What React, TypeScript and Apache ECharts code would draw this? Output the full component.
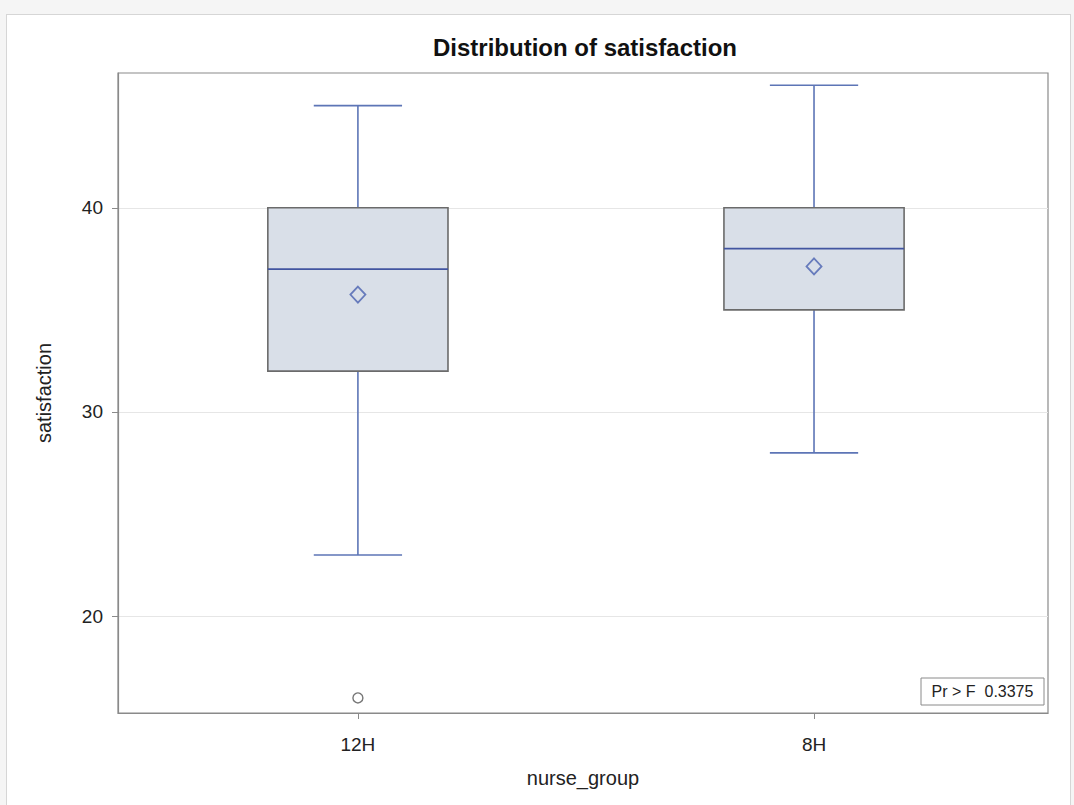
import React, { useEffect, useRef } from "react";
import * as echarts from "echarts";

// Five-number summaries per nurse group
const groups = ["12H", "8H"];
const whiskerLow = [23, 28];
const q1 = [32, 35];
const median = [37, 38];
const q3 = [40, 40];
const whiskerHigh = [45, 46];
const means = [35.75, 37.13];
// [group index, value]
const outliers: [number, number][] = [[0, 16]];

const groupIndexes = [0, 1];
const xMin = -0.526;
const xMax = 1.513;
const yTicks = [20, 30, 40];
const yMin = 15.26;
const yMax = 46.6;
const pValueText = "Pr > F  0.3375";

const FONT = "'Liberation Sans', Arial, sans-serif";

export default function App() {
  const ref = useRef<HTMLDivElement>(null);

  useEffect(() => {
    if (!ref.current) return;
    const chart = echarts.init(ref.current, undefined, { renderer: "svg" });

    const boxData = groups.map((_, i) => [
      groupIndexes[i],
      whiskerLow[i],
      q1[i],
      median[i],
      q3[i],
      whiskerHigh[i],
    ]);

    const renderBox = (params: any, api: any) => {
      const idx = api.value(0);
      const unit = api.size([1, 0])[0];
      const boxW = unit * 0.395;
      const capW = boxW * 0.49;
      const pLow = api.coord([idx, api.value(1)]);
      const pQ1 = api.coord([idx, api.value(2)]);
      const pMed = api.coord([idx, api.value(3)]);
      const pQ3 = api.coord([idx, api.value(4)]);
      const pHigh = api.coord([idx, api.value(5)]);
      const cx = pMed[0];
      const whiskerStyle = { stroke: "#5d75b6", lineWidth: 1.6 };
      return {
        type: "group",
        children: [
          { type: "line", shape: { x1: cx, y1: pQ3[1], x2: cx, y2: pHigh[1] }, style: whiskerStyle },
          { type: "line", shape: { x1: cx, y1: pQ1[1], x2: cx, y2: pLow[1] }, style: whiskerStyle },
          { type: "line", shape: { x1: cx - capW / 2, y1: pHigh[1], x2: cx + capW / 2, y2: pHigh[1] }, style: whiskerStyle },
          { type: "line", shape: { x1: cx - capW / 2, y1: pLow[1], x2: cx + capW / 2, y2: pLow[1] }, style: whiskerStyle },
          {
            type: "rect",
            shape: { x: cx - boxW / 2, y: pQ3[1], width: boxW, height: pQ1[1] - pQ3[1] },
            style: { fill: "#d9dfe8", stroke: "#6b6b6b", lineWidth: 1.6 },
          },
          {
            type: "line",
            shape: { x1: cx - boxW / 2, y1: pMed[1], x2: cx + boxW / 2, y2: pMed[1] },
            style: { stroke: "#4255a0", lineWidth: 1.8 },
          },
        ],
      };
    };

    chart.setOption({
      animation: false,
      backgroundColor: "transparent",
      grid: {
        left: 118,
        right: 26,
        top: 73,
        bottom: 92,
        show: true,
        borderColor: "#8a8a8a",
        borderWidth: 1.2,
        backgroundColor: "transparent",
      },
      xAxis: {
        type: "value",
        min: xMin,
        max: xMax,
        name: "nurse_group",
        nameLocation: "middle",
        nameGap: 55,
        nameTextStyle: { fontFamily: FONT, fontSize: 20, color: "#222" },
        axisLine: { show: true, onZero: false, lineStyle: { color: "#8a8a8a", width: 1.2 } },
        axisTick: { show: true, length: 6, customValues: groupIndexes, lineStyle: { color: "#8a8a8a" } },
        axisLabel: {
          fontFamily: FONT,
          fontSize: 19,
          color: "#222",
          margin: 22,
          customValues: groupIndexes,
          formatter: (v: number) => groups[Math.round(v)] ?? "",
        },
        splitLine: { show: false },
      },
      yAxis: {
        type: "value",
        min: yMin,
        max: yMax,
        name: "satisfaction",
        nameLocation: "middle",
        nameGap: 64,
        nameRotate: 90,
        nameTextStyle: { fontFamily: FONT, fontSize: 20, color: "#222" },
        axisLine: { show: true, onZero: false, lineStyle: { color: "#8a8a8a", width: 1.2 } },
        axisTick: { show: true, length: 6, customValues: yTicks, lineStyle: { color: "#8a8a8a" } },
        axisLabel: { fontFamily: FONT, fontSize: 19, color: "#222", margin: 15, customValues: yTicks },
        splitLine: { show: true, lineStyle: { color: "#e6e6e6", width: 1.2 } },
      },
      series: [
        {
          type: "custom",
          renderItem: renderBox,
          data: boxData,
          encode: { x: 0, y: [1, 2, 3, 4, 5] },
          z: 2,
        },
        {
          type: "scatter",
          data: groups.map((_, i) => [groupIndexes[i], means[i]]),
          symbol: "diamond",
          symbolSize: [15, 16],
          itemStyle: { color: "transparent", borderColor: "#4a62b0", borderWidth: 1.8 },
          z: 5,
        },
        {
          type: "scatter",
          data: outliers,
          symbol: "circle",
          symbolSize: 10,
          itemStyle: { color: "transparent", borderColor: "#555", borderWidth: 1.4 },
          z: 5,
        },
      ],
      graphic: [
        {
          type: "text",
          x: 585,
          y: 47,
          style: {
            text: "Distribution of satisfaction",
            fontFamily: FONT,
            fontSize: 24,
            fontWeight: "bold",
            fill: "#111",
            align: "center",
            verticalAlign: "middle",
          },
        },
        {
          type: "rect",
          shape: { x: 921, y: 678, width: 123, height: 27 },
          style: { fill: "#fff", stroke: "#8a8a8a", lineWidth: 1 },
          z: 50,
        },
        {
          type: "text",
          x: 982.5,
          y: 691.5,
          z: 51,
          style: {
            text: pValueText,
            fontFamily: FONT,
            fontSize: 16,
            fill: "#222",
            align: "center",
            verticalAlign: "middle",
          },
        },
      ],
    });

    return () => chart.dispose();
  }, []);

  return (
    <div
      style={{
        position: "fixed",
        left: 0,
        top: 0,
        width: 1074,
        height: 805,
        background: "#f5f5f5",
        overflow: "hidden",
      }}
    >
      <div
        style={{
          position: "absolute",
          left: 6,
          top: 14,
          width: 1065,
          height: 820,
          background: "#fff",
          border: "1px solid #d6d6d6",
          boxSizing: "border-box",
        }}
      />
      <div ref={ref} style={{ position: "absolute", left: 0, top: 0, width: 1074, height: 805 }} />
    </div>
  );
}
